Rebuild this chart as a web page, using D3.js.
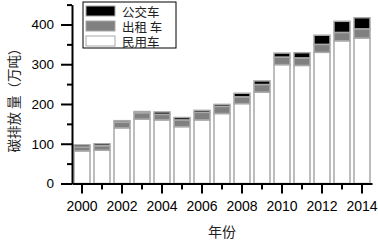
<!DOCTYPE html>
<html>
<head>
<meta charset="utf-8">
<script src="https://cdn.jsdelivr.net/npm/d3@7"></script>
<style>
  body { margin: 0; background: #fff; }
  svg { display: block; }
</style>
</head>
<body>
<div id="chart"></div>
<script>
// data (万吨)
const years = [2000, 2001, 2002, 2003, 2004, 2005, 2006, 2007, 2008, 2009, 2010, 2011, 2012, 2013, 2014];
const civil = [82, 84, 140, 162, 160, 143, 160, 176, 201, 230, 299, 297, 330, 359, 366];
const taxi  = [10, 11, 14, 16, 14, 17, 19, 18, 17, 19, 19, 19, 20, 21, 23];
const bus   = [5, 5, 4, 3, 6, 6, 5, 5, 9, 9, 10, 13, 23, 28, 28];
const keys = ["民用车", "出租车", "公交车"];
const legendLabels = ["公交车", "出租 车", "民用车"];
const yTicks = [0, 50, 100, 150, 200, 250, 300, 350, 400, 450];

const width = 378, height = 241;
const colors = {"民用车": "#ffffff", "出租车": "#808080", "公交车": "#000000"};

const rows = years.map((yr, i) => ({year: yr, "民用车": civil[i], "出租车": taxi[i], "公交车": bus[i]}));
const series = d3.stack().keys(keys)(rows);

const svg = d3.select("#chart").append("svg")
    .attr("width", width)
    .attr("height", height);

const x = d3.scaleBand()
    .domain(years)
    .range([72, 372])
    .paddingInner(0.2)
    .paddingOuter(0.1);

const y = d3.scaleLinear()
    .domain([0, 450])
    .range([183.5, 4.6]);

// bars
svg.append("g")
  .selectAll("g")
  .data(series)
  .join("g")
    .attr("fill", d => colors[d.key])
  .selectAll("rect")
  .data(d => d)
  .join("rect")
    .attr("x", d => x(d.data.year))
    .attr("y", d => y(d[1]))
    .attr("width", x.bandwidth())
    .attr("height", d => y(d[0]) - y(d[1]))
    .attr("stroke", "#a8a8a8")
    .attr("stroke-width", 1.5);

// x axis
const xAxis = svg.append("g")
    .attr("transform", `translate(0,${y(0)})`)
    .call(d3.axisBottom(x)
      .tickSize(10)
      .tickSizeOuter(0)
      .tickPadding(8)
      .tickFormat(d => d % 2 === 0 ? d : ""));
xAxis.selectAll(".tick line")
    .attr("y2", d => d % 2 === 0 ? 10 : 6);

// y axis
const yAxis = svg.append("g")
    .attr("transform", `translate(72,0)`)
    .call(d3.axisLeft(y)
      .tickValues(yTicks)
      .tickSize(11)
      .tickSizeOuter(0)
      .tickPadding(7)
      .tickFormat(d => d % 100 === 0 ? d : ""));
yAxis.selectAll(".tick line")
    .attr("x2", d => d % 100 === 0 ? -11 : -5);

[xAxis, yAxis].forEach(a => {
  a.select(".domain").attr("stroke", "#000").attr("stroke-width", 2);
  a.selectAll(".tick line").attr("stroke", "#000").attr("stroke-width", 2);
  a.selectAll(".tick text")
    .attr("fill", "#000")
    .style("font-family", "'Liberation Sans', Arial, sans-serif")
    .style("font-size", "13.5px");
});
xAxis.selectAll(".tick text").style("font-size", "14px");

// axis titles
svg.append("text")
    .attr("x", 222)
    .attr("y", 231)
    .attr("text-anchor", "middle")
    .attr("dominant-baseline", "central")
    .attr("fill", "#222")
    .style("font-family", "'Noto Sans CJK SC', sans-serif")
    .style("font-size", "14px")
    .text("年份");

svg.append("text")
    .attr("transform", "translate(13,97) rotate(-90)")
    .attr("text-anchor", "middle")
    .attr("dominant-baseline", "central")
    .attr("fill", "#222")
    .style("font-family", "'Noto Sans CJK SC', sans-serif")
    .style("font-size", "13.5px")
    .text("碳排放 量（万吨）");

// legend
const legend = svg.append("g");
legend.append("rect")
    .attr("x", 83).attr("y", 2)
    .attr("width", 93).attr("height", 46)
    .attr("fill", "#fff")
    .attr("stroke", "#000")
    .attr("stroke-width", 1);

const legendKeys = ["公交车", "出租车", "民用车"];
const item = legend.selectAll("g.item")
  .data(legendKeys)
  .join("g")
    .attr("class", "item")
    .attr("transform", (d, i) => `translate(86,${6 + i * 15})`);

item.append("rect")
    .attr("width", 29)
    .attr("height", 10)
    .attr("fill", d => colors[d])
    .attr("stroke", "#a8a8a8")
    .attr("stroke-width", 1);

item.append("text")
    .attr("x", 36)
    .attr("y", 5)
    .attr("dominant-baseline", "central")
    .attr("fill", "#222")
    .style("font-family", "'Noto Sans CJK SC', sans-serif")
    .style("font-size", "12.5px")
    .text((d, i) => legendLabels[i]);
</script>
</body>
</html>
